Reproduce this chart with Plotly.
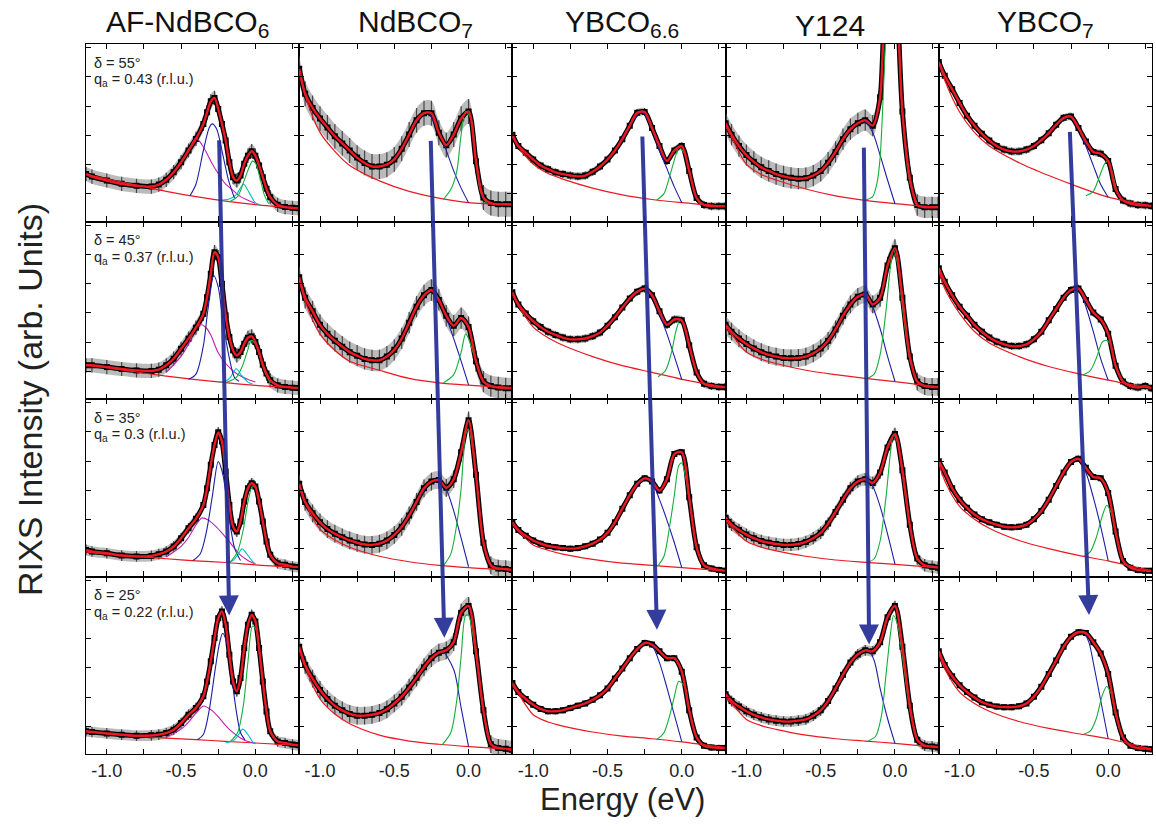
import plotly.graph_objects as go
from plotly.subplots import make_subplots

# ---------------- labels ----------------
SAMPLES = ["AF-NdBCO<sub>6</sub>", "NdBCO<sub>7</sub>", "YBCO<sub>6.6</sub>", "Y124", "YBCO<sub>7</sub>"]
TITLE_X_PX = [187, 415, 622, 830, 1045]
DELTA_DEG = [55, 45, 35, 25]
Q_A = ["0.43", "0.37", "0.3", "0.22"]
X_TICKS = [-1.0, -0.5, 0.0]
X_TICK_TEXT = ["-1.0", "-0.5", "0.0"]
X_MINOR_TICKS = [-0.75, -0.25, 0.25]
Y_TICKS = [15.5, 32, 48.5, 65, 81.5, 98]

# ---------------- energies ----------------
E_GRID = [-1.14, -1.10, -1.05, -1.00, -0.95, -0.90, -0.85, -0.80, -0.75, -0.70,
          -0.65, -0.60, -0.55, -0.50, -0.45, -0.40, -0.35, -0.30, -0.25, -0.20,
          -0.15, -0.10, -0.05, 0.00, 0.05, 0.10, 0.15, 0.20, 0.25, 0.29]
E_AF = [-1.14, -1.10, -1.00, -0.90, -0.80, -0.70, -0.65, -0.60, -0.55, -0.50,
        -0.45, -0.40, -0.35, -0.325, -0.30, -0.275, -0.25, -0.225, -0.20, -0.175,
        -0.15, -0.125, -0.10, -0.075, -0.05, -0.025, 0.00, 0.025, 0.05, 0.075,
        0.10, 0.15, 0.20, 0.25, 0.29]
BG_E = [-1.14, -1.10, -1.00, -0.90, -0.80, -0.60, -0.40, -0.20, 0.00, 0.29]

# ---------------- measured intensity (rows: delta 55, 45, 35, 25) ----------------
INT_AF = [
    [26.8, 25.3, 23.1, 21.2, 20.1, 19.7, 20.8, 23.5, 27.8, 33.4, 40, 46.5, 55, 61.5, 67.7, 69.6, 63.4, 55, 45.6, 33.4,
     25, 23.1, 25.9, 32.5, 37.1, 39.6, 37.1, 31.5, 25, 18.4, 13.7, 9.4, 8.1, 7.7, 7.5],
    [19, 19, 18, 16.9, 16.1, 15.8, 16.5, 19, 22.7, 28.3, 34, 40.2, 48, 57.4, 70.5, 82.7, 79.9, 64.9, 47.1, 34.9,
     27.4, 24.6, 26.5, 31.1, 34.5, 35.3, 32.1, 26.5, 19.3, 14.3, 10.5, 7.7, 6.8, 6.4, 6.2],
    [15, 14.1, 13.1, 11.8, 11.3, 11.6, 12.6, 14.1, 16.9, 21.6, 27.2, 32.5, 40.3, 49.7, 62.9, 74.1, 81.2, 76, 59.1, 40.3,
     28.1, 25.3, 31, 42.2, 49.7, 52.5, 50.7, 42.2, 31, 19.7, 12.2, 7.5, 6.6, 5.6, 5.3],
    [12.8, 12.4, 11.6, 10.9, 10.3, 10.5, 10.9, 11.8, 13.7, 17.4, 22.1, 25.9, 32.5, 40.9, 52.2, 65.3, 76.5, 80.3, 72.8, 55.9,
     40.9, 35.3, 42.8, 59.7, 72.8, 78.4, 74.7, 59.7, 40.9, 24, 12.8, 7.1, 6.2, 5.3, 4.9],
]
INT_NDBCO7 = [
    [86, 72, 64, 58, 53, 48, 44, 40, 36, 33, 31, 31, 32, 35, 41, 49, 57, 61, 61, 50,
     43, 49, 58, 62, 34, 13.5, 10.4, 9.7, 9.7, 9.7],
    [68.6, 57, 49.4, 41.8, 36.7, 32.8, 29.5, 26.4, 24.4, 22.6, 21.8, 21.8, 23.9, 27.7, 34.1, 43, 52, 58.4, 61.4, 55.8,
     46.9, 41.3, 45.6, 40.5, 21.3, 9.8, 7.3, 6.5, 6, 6],
    [52.2, 42, 35.6, 30.5, 26.7, 24.1, 22.1, 20.3, 19, 18, 17.8, 18.5, 20.3, 23.4, 28, 34.4, 42, 49.7, 53.5, 54.3,
     50, 54.8, 70, 88, 57.3, 19, 6.3, 4.5, 4.2, 3.7],
    [60.4, 50.2, 42.5, 36.1, 31, 27.2, 24.6, 22.6, 21.6, 21.6, 22.1, 23.1, 25.2, 28.5, 32.3, 37.4, 43, 48.9, 54, 57.1,
     58.4, 63, 79.6, 83.4, 57.9, 24.6, 5.5, 3.4, 2.9, 2.4],
]
INT_YBCO66 = [
    [48.9, 42.5, 38.7, 34.9, 31.5, 29.5, 27.7, 26.7, 25.9, 25.4, 25.9, 28, 31, 34.9, 40, 46.4, 54, 61.2, 61.7, 52.7,
     42.5, 34.1, 40, 42.5, 28.5, 13.2, 9.3, 8.6, 8.6, 8.6],
    [60.2, 53.3, 48.1, 43.8, 40.5, 37.9, 36.1, 34.6, 33.6, 33.6, 34.1, 35.4, 37.4, 41.3, 46.1, 51.5, 56.6, 60.4, 62.2, 58.4,
     49.4, 41.8, 44.8, 44.3, 30.3, 15, 8.6, 7.3, 6.8, 6.8],
    [30.5, 26.2, 22.9, 20.3, 18.5, 17.2, 16.5, 16, 15.7, 16, 17, 18.5, 20.8, 24.6, 30.5, 38.2, 45.8, 52.2, 55.3, 53.5,
     48.4, 54.8, 69, 70, 44.6, 16.5, 6.3, 4.5, 3.7, 3.2],
    [40, 34.9, 31, 27.7, 25.4, 24.1, 24.1, 24.6, 25.9, 27.2, 28.5, 30.5, 33.1, 36.9, 42.5, 48.1, 54, 59.1, 62.5, 61.7,
     57.9, 54, 54, 46.4, 24.6, 9.3, 4.7, 3.7, 3.4, 3.4],
]
INT_Y124 = [
    [55.3, 48.9, 42.5, 37.4, 33.6, 30.5, 28.5, 26.7, 25.4, 24.6, 24.1, 24.4, 25.9, 28.5, 33.1, 39.2, 46.4, 52, 55.3, 57.1,
     54, 70, 160, 140, 62, 24.6, 9.3, 8, 8, 8],
    [41.8, 37.9, 34.1, 31, 28.5, 26.4, 24.9, 23.9, 23.1, 22.9, 23.1, 23.9, 25.7, 28.5, 32.8, 39.2, 46.9, 53.3, 57.6, 58.9,
     53.3, 57, 75.2, 85, 57, 24, 9.8, 7.3, 6.8, 6.8],
    [33.1, 29.2, 26.2, 23.6, 21.6, 20, 19, 18.3, 17.8, 17.8, 18.3, 19.5, 21.6, 24.6, 29.8, 36.4, 43.3, 49.7, 53.5, 54.8,
     52.7, 58.6, 72.7, 80.3, 59.9, 29.2, 10.1, 6.3, 5.5, 5],
    [33.6, 29.8, 26.7, 24.1, 22.1, 20.6, 19.5, 18.8, 18.3, 18.3, 18.8, 19.5, 21.6, 24.6, 29.8, 36.9, 44.6, 51.5, 56.1, 58.4,
     57.9, 63, 77, 83.4, 60.4, 27.2, 8, 4.7, 4.2, 3.7],
]
INT_YBCO7 = [
    [89.8, 82.1, 74.5, 66.8, 59.6, 54, 49.4, 45.6, 42.5, 40.5, 39.5, 39.5, 40.5, 42.5, 45.8, 49.7, 54.5, 58.4, 59.1, 52.7,
     45.1, 39.2, 38.2, 34.1, 18.3, 11.9, 10.1, 9.3, 9.1, 8.8],
    [73.7, 66, 58.4, 52, 46.9, 41.8, 37.9, 34.6, 32.3, 30.8, 29.8, 29.8, 30.8, 33.6, 37.9, 44.3, 50.7, 57.1, 61.4, 62.2,
     55.8, 48.7, 44.8, 36.7, 18.8, 9.8, 7.3, 6.5, 7.3, 6],
    [65, 58.6, 49.7, 43.3, 38.7, 34.9, 32.3, 30.5, 29.2, 28, 27.7, 28, 29.2, 32.3, 36.9, 43.3, 51, 58.6, 64.5, 66.3,
     61.2, 56.1, 55.3, 47.1, 25.4, 8.8, 5, 3.7, 3.2, 3.2],
    [57.9, 50.2, 43.8, 38.7, 34.9, 31.8, 29.2, 27.7, 26.7, 26.4, 26.4, 26.9, 28.5, 32.3, 37.9, 45.1, 52.7, 60.4, 66, 68.6,
     68.1, 63, 56.6, 45.1, 23.4, 9.3, 4.7, 3.4, 2.9, 2.7],
]

# error bar half-heights per panel
ERR_AF = [4, 4, 3, 3]
ERR_NDBCO7 = [7, 6, 5, 5]
ERR_YBCO66 = [2.2, 2.2, 1.8, 1.8]
ERR_Y124 = [6, 5, 3.5, 3]
ERR_YBCO7 = [2.2, 2.2, 1.8, 1.8]

# ---------------- background (red thin) at BG_E ----------------
BG_AF = [[26.5, 25.8, 24, 22.2, 20.5, 17, 14, 11.5, 9.5, 7.2],
         [19, 18.6, 17.6, 16.4, 15.2, 12.9, 10.9, 9.2, 7.7, 6.2],
         [13.7, 13.4, 12.6, 12, 11.3, 10, 8.8, 7.9, 6.6, 5.3],
         [12.8, 12.5, 11.3, 10.6, 10, 9, 8.1, 7.1, 6.2, 4.9]]
BG_NDBCO7 = [[84.7, 71, 50.2, 39.5, 31.5, 22.9, 17, 13.2, 10.6, 9.3],
             [67.3, 55, 36.7, 27.5, 21.3, 16.2, 11.6, 9.1, 7.8, 6.5],
             [51, 41.5, 26.7, 20.5, 16.5, 11.4, 8.3, 6.3, 5, 3.7],
             [59, 49, 31, 22.5, 17, 10.6, 7.3, 5.5, 4.2, 2.7]]
BG_YBCO66 = [[47.6, 42, 32.3, 27, 23.9, 18.8, 15, 12.4, 10.6, 8.6],
             [58.9, 52.5, 40.5, 34.5, 30.3, 23.9, 18.8, 15, 11.1, 6.8],
             [29.2, 25.5, 17.8, 14.8, 12.6, 9.6, 7.5, 6.3, 5, 3.2],
             [38.7, 34, 22.1, 18, 15.7, 12.4, 10.1, 8.6, 6.8, 3.6]]
BG_Y124 = [[54, 47.5, 32.3, 26.5, 23.4, 18.3, 14.4, 11.9, 10.1, 8],
           [40.5, 36.5, 26.4, 22.5, 20, 16.2, 13.7, 11.6, 9.8, 6.8],
           [31.8, 28, 19.8, 16.5, 14.4, 11.4, 9.3, 8, 6.8, 5],
           [32.3, 28.5, 19.5, 16, 13.9, 10.6, 8.6, 7.3, 6, 3.7]]
BG_YBCO7 = [[89.8, 79.6, 61.7, 50.2, 42.5, 33.1, 25.9, 19.5, 13.7, 8.8],
            [72.4, 62.2, 48.2, 38, 31.5, 23.9, 18.3, 14.2, 10.6, 6],
            [63.7, 54, 39.5, 32.3, 27.2, 20.3, 15.7, 11.9, 8.8, 3.2],
            [56.6, 48, 34.9, 28.5, 24.1, 18.3, 14.4, 11.4, 8.6, 2.9]]

# ---------------- fitted components (energy, intensity) ----------------
BLUE_AF_E = [[-0.44, -0.4, -0.35, -0.31, -0.29, -0.26, -0.22, -0.18, -0.14],
             [-0.45, -0.4, -0.35, -0.32, -0.28, -0.25, -0.22, -0.18, -0.14, -0.11],
             [-0.42, -0.37, -0.33, -0.29, -0.25, -0.22, -0.18, -0.14, -0.1],
             [-0.39, -0.35, -0.31, -0.27, -0.24, -0.22, -0.19, -0.16, -0.13, -0.1, -0.07]]
BLUE_AF_I = [[14.5, 21, 40, 53, 55, 52, 38, 23, 13],
             [11, 14, 30, 50, 69.6, 63, 45, 25, 12, 10],
             [9, 13, 25, 45, 64.7, 58, 35, 16, 9],
             [8, 11, 25, 48, 63, 68, 62, 44, 25, 12, 8]]
MAG_AF_E = [[-0.6, -0.5, -0.45, -0.4, -0.35, -0.3, -0.25, -0.2, -0.15, -0.1, -0.05, 0.0],
            [-0.6, -0.5, -0.45, -0.4, -0.37, -0.33, -0.3, -0.25, -0.2, -0.13, -0.05, 0.0],
            [-0.6, -0.5, -0.45, -0.4, -0.36, -0.32, -0.27, -0.22, -0.16, -0.1, -0.05, 0.0],
            [-0.6, -0.5, -0.45, -0.4, -0.35, -0.3, -0.25, -0.2, -0.15, -0.1, -0.05, 0.0]]
MAG_AF_I = [[23, 33, 40, 47, 42, 34, 27, 21, 17.5, 14, 12, 10.3],
            [15, 24, 31, 40, 42, 40, 36, 26, 20, 14.5, 11, 9.6],
            [11, 17, 22, 29, 33, 32, 28.5, 24, 18, 12, 9, 7],
            [9.5, 14, 18, 23, 27, 25, 21, 16, 12, 9, 7, 6]]
CYAN_AF_E = [[-0.25, -0.18, -0.13, -0.08, -0.04, 0.0, 0.03],
             [-0.25, -0.2, -0.17, -0.13, -0.09, -0.05, -0.02],
             [-0.2, -0.15, -0.12, -0.09, -0.06, -0.02, 0.0],
             [-0.2, -0.15, -0.12, -0.085, -0.05, -0.02, 0.0]]
CYAN_AF_I = [[12, 12.5, 15, 21, 16, 10.5, 9.5],
             [9.5, 10, 12, 17, 13, 9.5, 8.5],
             [8, 9, 12, 15.6, 13, 8.5, 7],
             [6.5, 7.5, 10, 14, 11, 7, 6]]
GREEN_AF_E = [[-0.18, -0.12, -0.08, -0.04, -0.02, 0.0, 0.03, 0.06, 0.09],
              [-0.19, -0.13, -0.09, -0.05, -0.03, 0.0, 0.03, 0.06, 0.1],
              [-0.17, -0.12, -0.08, -0.05, -0.02, 0.0, 0.025, 0.05, 0.075, 0.1, 0.15],
              [-0.17, -0.12, -0.08, -0.05, -0.02, 0.0, 0.025, 0.05, 0.075, 0.1, 0.15]]
GREEN_AF_I = [[11, 14, 22, 31, 34, 33, 25, 15, 10],
              [9.5, 12, 18, 28, 33, 31, 24, 16, 9],
              [8, 14, 27, 42, 51, 50, 42, 31, 20, 12, 7.5],
              [7, 12, 28, 52, 72, 71, 58, 40, 24, 13, 7]]

BLUE_NDBCO7_E = [[-0.55, -0.45, -0.35, -0.28, -0.2, -0.15, -0.1, -0.05, 0.0],
                 [-0.45, -0.35, -0.25, -0.2, -0.15, -0.1, -0.05, 0.0],
                 [-0.45, -0.35, -0.25, -0.2, -0.15, -0.1, -0.05, 0.0],
                 [-0.45, -0.35, -0.25, -0.18, -0.1, -0.05, 0.0]]
BLUE_NDBCO7_I = [[31.5, 40.7, 56.1, 61.7, 50.2, 40, 28.5, 18.8, 10.6],
                 [34, 52, 61.4, 56, 46, 34, 21.3, 8],
                 [28, 42, 53.5, 54, 49, 37, 21.6, 5.5],
                 [32, 43, 54, 58, 47.6, 26, 4.2]]
GREEN_NDBCO7_E = [[-0.17, -0.12, -0.08, -0.05, -0.02, 0.02, 0.05, 0.08, 0.12],
                  [-0.17, -0.1, -0.05, -0.02, 0.0, 0.05, 0.1, 0.13],
                  [-0.17, -0.12, -0.08, -0.05, -0.02, 0.0, 0.05, 0.1, 0.15],
                  [-0.18, -0.12, -0.08, -0.05, -0.02, 0.0, 0.05, 0.1, 0.15]]
GREEN_NDBCO7_I = [[12.4, 18, 28, 49, 62, 57, 34, 17, 10.4],
                  [9, 13.7, 26.4, 36.7, 34, 21, 10, 7.5],
                  [6, 12.6, 29.2, 49.7, 80, 83, 57, 19, 6.3],
                  [5, 12, 30, 55, 78, 78, 55, 24, 5]]

BLUE_YBCO66_E = [[-0.45, -0.35, -0.27, -0.2, -0.15, -0.1, -0.05, 0.0],
                 [-0.45, -0.35, -0.25, -0.2, -0.15, -0.1, -0.05, 0.0],
                 [-0.45, -0.35, -0.25, -0.2, -0.15, -0.1, -0.05, 0.0],
                 [-0.45, -0.35, -0.25, -0.2, -0.15, -0.1, -0.05, 0.0]]
BLUE_YBCO66_I = [[40, 54, 62, 52, 40, 29.8, 19.5, 10.6],
                 [46, 56.6, 62, 58, 48, 36.7, 24, 11],
                 [30.5, 45.8, 55, 53, 43.3, 31.8, 19, 5],
                 [42.5, 54, 63, 61, 51.5, 37.4, 22, 7]]
GREEN_YBCO66_E = [[-0.17, -0.12, -0.08, -0.04, -0.02, 0.02, 0.05, 0.1, 0.13],
                  [-0.16, -0.11, -0.07, -0.04, -0.01, 0.02, 0.05, 0.1, 0.14],
                  [-0.16, -0.12, -0.08, -0.05, -0.02, 0.0, 0.05, 0.1, 0.15],
                  [-0.17, -0.12, -0.08, -0.05, -0.02, 0.02, 0.05, 0.1, 0.14]]
GREEN_YBCO66_I = [[12, 15.7, 26, 37.4, 41.8, 38, 28, 13, 9.5],
                  [12.5, 16, 26, 38, 45, 40, 30, 15, 9],
                  [6, 11.4, 29.2, 45.8, 62.5, 64, 44, 16, 6],
                  [8, 12, 22, 32.3, 41, 38, 25, 9.5, 5]]

BLUE_Y124_E = [[-0.45, -0.35, -0.25, -0.2, -0.15, -0.1, -0.05, 0.0],
               [-0.45, -0.35, -0.25, -0.19, -0.15, -0.1, -0.05, 0.0],
               [-0.45, -0.35, -0.25, -0.19, -0.15, -0.1, -0.05, 0.0],
               [-0.45, -0.35, -0.25, -0.18, -0.14, -0.1, -0.05, 0.0]]
BLUE_Y124_I = [[33, 46, 55.5, 56, 50.2, 37.4, 23.4, 10],
               [32.8, 47, 57.6, 59, 52, 39.7, 24, 10],
               [30, 43, 53.5, 55, 51, 39.5, 24, 7],
               [29.8, 44.6, 56, 58.5, 52.7, 37, 20, 6]]
GREEN_Y124_E = [[-0.2, -0.15, -0.12, -0.1, -0.08, -0.06, -0.03, 0.0, 0.05, 0.1, 0.15],
                [-0.19, -0.14, -0.1, -0.06, -0.03, -0.01, 0.02, 0.05, 0.1, 0.15],
                [-0.18, -0.14, -0.1, -0.06, -0.03, -0.01, 0.02, 0.05, 0.1, 0.15],
                [-0.18, -0.13, -0.09, -0.06, -0.03, -0.01, 0.02, 0.05, 0.1, 0.15]]
GREEN_Y124_I = [[12, 14, 22, 36, 69, 110, 150, 140, 60, 22, 10],
                [11.5, 14, 25, 50, 75, 84, 75, 52, 22, 9.8],
                [8, 10, 20, 45, 70, 80, 75, 58, 28, 9],
                [7.5, 10, 22, 45, 68, 78, 72, 55, 25, 8]]

BLUE_YBCO7_E = [[-0.45, -0.35, -0.26, -0.2, -0.15, -0.1, -0.05, 0.0],
                [-0.45, -0.35, -0.25, -0.2, -0.15, -0.1, -0.05, 0.0],
                [-0.45, -0.35, -0.25, -0.2, -0.15, -0.1, -0.05, 0.0],
                [-0.45, -0.35, -0.25, -0.17, -0.13, -0.1, -0.05, 0.0]]
BLUE_YBCO7_I = [[45.8, 54.5, 59, 52.5, 42.5, 31.5, 20.8, 13.7],
                [37.9, 50.7, 61.4, 63, 52, 38, 22.6, 10.6],
                [36.9, 51, 64.5, 66, 58.6, 44.6, 28, 9],
                [37.9, 52.7, 66, 69, 63, 51.5, 30, 8.6]]
GREEN_YBCO7_E = [[-0.15, -0.1, -0.06, -0.02, 0.0, 0.03, 0.06, 0.09],
                 [-0.17, -0.12, -0.08, -0.04, -0.01, 0.02, 0.05, 0.1],
                 [-0.16, -0.12, -0.08, -0.04, -0.01, 0.02, 0.05, 0.1],
                 [-0.17, -0.12, -0.08, -0.04, -0.01, 0.02, 0.05, 0.1]]
GREEN_YBCO7_I = [[14.5, 17, 25, 33, 34, 27, 17, 12],
                 [13.5, 16, 23, 32, 33, 30, 18, 10],
                 [11.5, 14, 22, 34, 40, 36, 24, 8.8],
                 [11, 13, 20, 33, 38, 34, 22, 9]]

# ---------------- dispersion arrows (row 1 start -> row 4 tip) ----------------
ARROW_START_E = [-0.245, -0.256, -0.267, -0.21, -0.26]
ARROW_START_I = [50.6, 50.2, 52.7, 46.4, 55.3]
ARROW_END_E = [-0.176, -0.163, -0.167, -0.174, -0.129]
ARROW_END_I = [78, 65.5, 70, 61.7, 78.3]

# ---------------- assemble ----------------
INTS = [INT_AF, INT_NDBCO7, INT_YBCO66, INT_Y124, INT_YBCO7]
ERRS = [ERR_AF, ERR_NDBCO7, ERR_YBCO66, ERR_Y124, ERR_YBCO7]
BGS = [BG_AF, BG_NDBCO7, BG_YBCO66, BG_Y124, BG_YBCO7]
BLUES = [(BLUE_AF_E, BLUE_AF_I), (BLUE_NDBCO7_E, BLUE_NDBCO7_I), (BLUE_YBCO66_E, BLUE_YBCO66_I),
         (BLUE_Y124_E, BLUE_Y124_I), (BLUE_YBCO7_E, BLUE_YBCO7_I)]
GREENS = [(GREEN_AF_E, GREEN_AF_I), (GREEN_NDBCO7_E, GREEN_NDBCO7_I), (GREEN_YBCO66_E, GREEN_YBCO66_I),
          (GREEN_Y124_E, GREEN_Y124_I), (GREEN_YBCO7_E, GREEN_YBCO7_I)]

FONT = "Arial, Liberation Sans, sans-serif"
RED = "rgb(235,25,35)"
BLUE = "rgb(30,30,165)"
GREEN = "rgb(20,175,60)"
MAGENTA = "rgb(195,30,175)"
CYAN = "rgb(0,190,195)"

fig = make_subplots(rows=4, cols=5, horizontal_spacing=0, vertical_spacing=0)


def line_trace(x, y, color, width, name):
    return go.Scatter(x=x, y=y, mode="lines", name=name, showlegend=False, hoverinfo="skip",
                      line=dict(color=color, width=width, shape="spline", smoothing=0.8))


for c in range(5):
    for r in range(4):
        E = E_AF if c == 0 else E_GRID
        I = INTS[c][r]
        err = ERRS[c][r]
        row, col = r + 1, c + 1
        lower = [v - err for v in I]
        upper = [v + err for v in I]
        fig.add_trace(go.Scatter(x=E, y=lower, mode="lines", showlegend=False, hoverinfo="skip",
                                 line=dict(width=0, shape="spline", smoothing=0.8)), row=row, col=col)
        fig.add_trace(go.Scatter(x=E, y=upper, mode="lines", showlegend=False, hoverinfo="skip",
                                 fill="tonexty", fillcolor="rgba(120,120,120,0.5)",
                                 line=dict(width=0, shape="spline", smoothing=0.8)), row=row, col=col)
        fig.add_trace(go.Scatter(x=E, y=I, mode="lines+markers", showlegend=False, name="data",
                                 line=dict(color="black", width=5, shape="spline", smoothing=0.8),
                                 marker=dict(symbol="square", size=6, color="black"),
                                 error_y=dict(type="constant", value=err, color="rgb(70,70,70)",
                                              thickness=1.2, width=0)), row=row, col=col)
        # components
        fig.add_trace(line_trace(BG_E, BGS[c][r], RED, 1.2, "background"), row=row, col=col)
        if c == 0:
            fig.add_trace(line_trace(MAG_AF_E[r], MAG_AF_I[r], MAGENTA, 1.1, "magenta"), row=row, col=col)
            fig.add_trace(line_trace(CYAN_AF_E[r], CYAN_AF_I[r], CYAN, 1.1, "cyan"), row=row, col=col)
        be, bi = BLUES[c]
        fig.add_trace(line_trace(be[r], bi[r], BLUE, 1.1, "blue"), row=row, col=col)
        ge, gi = GREENS[c]
        fig.add_trace(line_trace(ge[r], gi[r], GREEN, 1.1, "green"), row=row, col=col)
        # total fit
        fig.add_trace(line_trace(E, I, RED, 2.4, "fit"), row=row, col=col)

fig.update_xaxes(range=[-1.14, 0.295], tickvals=X_TICKS, ticktext=X_TICK_TEXT,
                 ticks="inside", ticklen=5, tickwidth=1, tickcolor="black",
                 minor=dict(tickvals=X_MINOR_TICKS, ticks="inside", ticklen=5, tickwidth=1,
                            tickcolor="black", showgrid=False),
                 showline=True, linecolor="black", linewidth=1.1, mirror="allticks",
                 showgrid=False, zeroline=False, showticklabels=False,
                 tickfont=dict(family=FONT, size=18, color="#222"))
fig.update_xaxes(showticklabels=True, row=4)
fig.update_yaxes(range=[0, 100], tickvals=Y_TICKS, ticks="inside", ticklen=5, tickwidth=1,
                 tickcolor="black", showline=True, linecolor="black", linewidth=1.1,
                 mirror="allticks", showgrid=False, zeroline=False, showticklabels=False)

W, H = 1156, 830
ML, MR, MT, MB = 86, 4, 44, 76
PW, PH = W - ML - MR, H - MT - MB

annotations = []
# column titles
for c in range(5):
    annotations.append(dict(text=SAMPLES[c], xref="paper", yref="paper",
                            x=(TITLE_X_PX[c] - ML) / PW, y=1.0, xanchor="center", yanchor="bottom",
                            showarrow=False, font=dict(family=FONT, size=30, color="#111")))


def axn(k):
    return "" if k == 1 else str(k)


# delta / q labels in the first column
for r in range(4):
    k = r * 5 + 1
    annotations.append(dict(text=f"\u03b4 = {DELTA_DEG[r]}\u00b0", xref=f"x{axn(k)} domain",
                            yref=f"y{axn(k)} domain", x=0.03, y=0.893, xanchor="left", yanchor="middle",
                            showarrow=False, font=dict(family=FONT, size=14.5, color="#222")))
    annotations.append(dict(text=f"q<sub>a</sub> = {Q_A[r]} (r.l.u.)", xref=f"x{axn(k)} domain",
                            yref=f"y{axn(k)} domain", x=0.03, y=0.795, xanchor="left", yanchor="middle",
                            showarrow=False, font=dict(family=FONT, size=14.5, color="#222")))

fig.update_layout(width=W, height=H, margin=dict(l=ML, r=MR, t=MT, b=MB),
                  paper_bgcolor="white", plot_bgcolor="white", showlegend=False,
                  annotations=annotations, font=dict(family=FONT))

# dispersion arrows, drawn in the bottom-row axes (each row spans 100 units)
for c in range(5):
    k = 15 + c + 1
    fig.add_annotation(x=ARROW_END_E[c], y=ARROW_END_I[c], xref=f"x{k}", yref=f"y{k}",
                       ax=ARROW_START_E[c], ay=ARROW_START_I[c] + 300,
                       axref=f"x{k}", ayref=f"y{k}", text=" ",
                       showarrow=True, arrowhead=2, arrowsize=1.0, arrowwidth=4,
                       arrowcolor="rgba(35,45,150,0.92)")

# axis titles
fig.add_annotation(text="Energy (eV)", xref="paper", yref="paper", x=(622 - ML) / PW,
                   y=-(800 - MT - PH) / PH, xanchor="center", yanchor="middle", showarrow=False,
                   font=dict(family=FONT, size=31, color="#222"))
fig.add_annotation(text="RIXS Intensity (arb. Units)", xref="paper", yref="paper",
                   x=(30 - ML) / PW, y=1 - (400 - MT) / PH, xanchor="center", yanchor="middle",
                   textangle=-90, showarrow=False, font=dict(family=FONT, size=34, color="#222"))

fig.write_html("out.html", config={"displayModeBar": False},
               post_script="document.body.style.margin='0';")
